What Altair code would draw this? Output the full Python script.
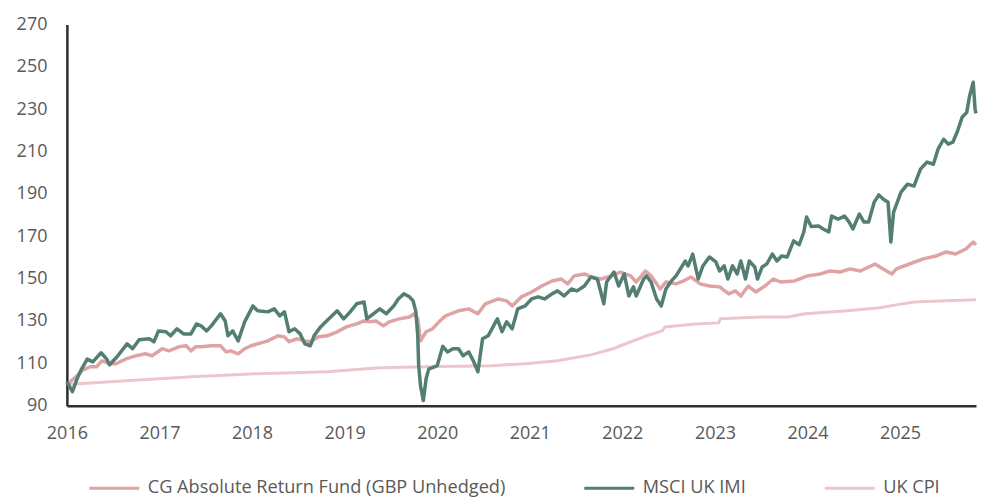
import altair as alt
import pandas as pd

# ---- data (decimal years, index level) ----
msci_t = [2016.00, 2016.06, 2016.11, 2016.16, 2016.22, 2016.28, 2016.37, 2016.43, 2016.46, 2016.54,
          2016.65, 2016.71, 2016.78, 2016.89, 2016.94, 2016.99, 2017.07, 2017.12, 2017.19, 2017.26,
          2017.34, 2017.40, 2017.45, 2017.51, 2017.56, 2017.66, 2017.71, 2017.74, 2017.79, 2017.85,
          2017.92, 2018.01, 2018.06, 2018.17, 2018.24, 2018.30, 2018.35, 2018.40, 2018.46, 2018.52,
          2018.57, 2018.63, 2018.67, 2018.74, 2018.83, 2018.92, 2018.99, 2019.06, 2019.13, 2019.21,
          2019.24, 2019.31, 2019.38, 2019.45, 2019.53, 2019.58, 2019.64, 2019.70, 2019.74, 2019.77,
          2019.79, 2019.80, 2019.82, 2019.85, 2019.88, 2019.91, 2019.95, 2020.00, 2020.06, 2020.11,
          2020.17, 2020.23, 2020.28, 2020.34, 2020.39, 2020.44, 2020.49, 2020.55, 2020.65, 2020.70,
          2020.75, 2020.81, 2020.87, 2020.95, 2021.02, 2021.09, 2021.16, 2021.24, 2021.30, 2021.37,
          2021.45, 2021.51, 2021.59, 2021.66, 2021.73, 2021.80, 2021.83, 2021.91, 2021.96, 2022.02,
          2022.07, 2022.12, 2022.15, 2022.23, 2022.26, 2022.31, 2022.37, 2022.42, 2022.47, 2022.53,
          2022.58, 2022.68, 2022.71, 2022.76, 2022.82, 2022.87, 2022.94, 2023.01, 2023.05, 2023.10,
          2023.14, 2023.19, 2023.24, 2023.28, 2023.33, 2023.37, 2023.43, 2023.46, 2023.51, 2023.56,
          2023.62, 2023.67, 2023.72, 2023.78, 2023.85, 2023.91, 2023.96, 2023.99, 2024.04, 2024.12,
          2024.17, 2024.23, 2024.26, 2024.33, 2024.40, 2024.45, 2024.49, 2024.56, 2024.61, 2024.66,
          2024.72, 2024.77, 2024.82, 2024.87, 2024.90, 2024.93, 2025.01, 2025.08, 2025.15, 2025.22,
          2025.29, 2025.36, 2025.41, 2025.47, 2025.52, 2025.57, 2025.62, 2025.67, 2025.72, 2025.75,
          2025.79, 2025.81, 2025.82]
msci_v = [101.3, 96.6, 102.7, 107.4, 112.0, 110.7, 115.0, 112.0, 109.3, 113.0,
          119.2, 116.9, 121.1, 121.6, 120.2, 125.3, 124.9, 123.0, 126.3, 123.9,
          123.9, 128.6, 127.7, 125.3, 127.7, 133.4, 130.0, 123.0, 125.3, 120.6,
          129.6, 137.1, 134.8, 134.3, 135.7, 132.4, 134.3, 124.9, 126.3, 123.9,
          119.2, 118.3, 123.0, 127.2, 131.0, 134.8, 131.0, 134.3, 138.1, 139.0,
          131.0, 133.4, 135.7, 133.4, 137.1, 140.4, 142.8, 141.4, 139.5, 134.3,
          123.0, 108.9, 99.4, 92.4, 102.7, 107.4, 108.0, 108.9, 118.0, 115.4,
          116.9, 116.9, 113.6, 115.4, 111.2, 106.0, 121.6, 123.0, 131.0, 124.9,
          129.6, 126.3, 135.7, 137.1, 140.4, 141.4, 140.4, 142.8, 144.2, 141.8,
          145.1, 144.2, 146.5, 150.8, 149.8, 138.1, 148.4, 153.1, 146.5, 152.2,
          141.8, 146.1, 141.8, 149.8, 151.3, 148.4, 140.4, 137.1, 145.1, 148.9,
          151.3, 158.3, 156.0, 161.6, 149.8, 156.0, 160.2, 157.9, 153.6, 156.0,
          149.8, 156.0, 152.2, 158.3, 149.8, 158.3, 155.5, 149.8, 155.5, 156.9,
          161.6, 158.3, 160.7, 160.2, 167.8, 166.0, 172.0, 179.1, 174.6, 174.8,
          173.4, 172.0, 179.5, 178.1, 179.5, 176.7, 173.4, 180.5, 176.7, 176.7,
          186.1, 189.5, 187.5, 186.1, 167.3, 181.4, 190.8, 194.6, 193.7, 201.7,
          205.0, 204.0, 211.1, 215.8, 213.5, 214.4, 219.6, 226.2, 228.5, 236.1,
          242.7, 230.0, 228.0]

fund_t = [2016.00, 2016.11, 2016.16, 2016.25, 2016.32, 2016.38, 2016.46, 2016.53, 2016.64, 2016.75,
          2016.85, 2016.92, 2017.03, 2017.10, 2017.21, 2017.29, 2017.34, 2017.39, 2017.45, 2017.56,
          2017.66, 2017.72, 2017.77, 2017.85, 2017.92, 2017.99, 2018.06, 2018.17, 2018.28, 2018.35,
          2018.40, 2018.49, 2018.57, 2018.63, 2018.72, 2018.81, 2018.92, 2019.02, 2019.13, 2019.21,
          2019.27, 2019.34, 2019.42, 2019.48, 2019.59, 2019.70, 2019.75, 2019.79, 2019.82, 2019.88,
          2019.95, 2020.02, 2020.09, 2020.23, 2020.34, 2020.44, 2020.52, 2020.66, 2020.75, 2020.81,
          2020.91, 2021.02, 2021.13, 2021.24, 2021.34, 2021.41, 2021.48, 2021.59, 2021.66, 2021.77,
          2021.88, 2021.98, 2022.09, 2022.15, 2022.25, 2022.31, 2022.41, 2022.47, 2022.58, 2022.66,
          2022.74, 2022.84, 2022.94, 2023.05, 2023.15, 2023.22, 2023.28, 2023.36, 2023.44, 2023.54,
          2023.63, 2023.71, 2023.86, 2024.00, 2024.14, 2024.24, 2024.35, 2024.46, 2024.57, 2024.73,
          2024.78, 2024.91, 2024.96, 2025.10, 2025.25, 2025.39, 2025.50, 2025.60, 2025.71, 2025.79,
          2025.82]
fund_v = [100.0, 104.1, 106.5, 108.4, 108.4, 111.2, 109.8, 109.8, 112.1, 113.6,
          114.5, 113.6, 116.9, 115.9, 117.8, 118.3, 115.9, 117.8, 117.8, 118.3,
          118.3, 115.4, 115.9, 114.5, 116.9, 118.3, 119.2, 120.6, 123.0, 122.5,
          120.2, 121.6, 120.6, 120.2, 122.5, 123.0, 124.9, 127.2, 128.6, 130.0,
          129.6, 130.0, 127.7, 129.6, 131.0, 131.9, 133.4, 131.0, 120.6, 124.9,
          126.3, 129.6, 132.4, 134.8, 135.7, 133.4, 138.1, 140.4, 139.5, 137.1,
          141.4, 143.7, 146.5, 148.9, 149.8, 147.5, 151.3, 152.2, 150.8, 149.8,
          151.3, 153.1, 151.3, 148.4, 153.6, 151.3, 145.1, 148.4, 147.5, 148.9,
          150.8, 147.5, 146.5, 146.1, 142.8, 144.2, 141.8, 146.5, 143.7, 146.5,
          149.8, 148.4, 148.9, 151.3, 152.2, 153.6, 153.1, 154.6, 153.6, 156.9,
          155.5, 152.2, 154.6, 156.9, 159.3, 160.7, 162.6, 161.6, 164.0, 167.3,
          166.0]

cpi_t = [2016.00, 2016.64, 2017.35, 2018.06, 2018.81, 2019.38, 2019.88, 2020.59, 2020.95, 2021.30,
         2021.66, 2021.91, 2021.98, 2022.26, 2022.43, 2022.46, 2022.79, 2023.04, 2023.06, 2023.51,
         2023.79, 2023.97, 2024.43, 2024.78, 2024.96, 2025.15, 2025.50, 2025.82]
cpi_v = [100.0, 101.8, 103.7, 105.1, 106.0, 107.9, 108.4, 108.9, 109.8, 111.2,
         114.0, 117.0, 118.3, 123.0, 125.3, 127.2, 128.6, 129.1, 131.0, 131.9,
         131.9, 133.4, 134.8, 136.2, 137.6, 139.0, 139.5, 140.0]

series_names = ["CG Absolute Return Fund (GBP Unhedged)", "MSCI UK IMI", "UK CPI"]
series_colors = ["#dfa3a4", "#537e74", "#ecc6ca"]
x_ticks = [2016, 2017, 2018, 2019, 2020, 2021, 2022, 2023, 2024, 2025]
y_ticks = [90, 110, 130, 150, 170, 190, 210, 230, 250, 270]

frames = []
for name, ts, vs in zip(series_names, [fund_t, msci_t, cpi_t], [fund_v, msci_v, cpi_v]):
    frames.append(pd.DataFrame({"year": ts, "value": vs, "series": name}))
df = pd.concat(frames, ignore_index=True)

FONT = "Open Sans"
color = alt.Color(
    "series:N",
    scale=alt.Scale(domain=series_names, range=series_colors),
    legend=alt.Legend(
        title=None, orient="none", legendX=21, legendY=438, direction="horizontal",
        columns=3, symbolType="stroke", symbolSize=2500, symbolStrokeWidth=3,
        labelFont=FONT, labelFontSize=18.2, labelColor="#595959", labelOffset=7,
        labelLimit=0, columnPadding=72, padding=0,
    ),
)
x = alt.X("year:Q", scale=alt.Scale(domain=[2016, 2025.82], nice=False, zero=False),
          axis=alt.Axis(values=x_ticks, format="d", title=None, ticks=False, grid=False,
                        labelFont=FONT, labelFontSize=18, labelColor="#595959", labelPadding=19,
                        domainColor="#2e2e2e", domainWidth=2.5, labelFlush=False))
y = alt.Y("value:Q", scale=alt.Scale(domain=[90, 270], nice=False, zero=False),
          axis=alt.Axis(values=y_ticks, title=None, ticks=False, grid=False,
                        labelFont=FONT, labelFontSize=18, labelColor="#595959", labelPadding=20,
                        domainColor="#2e2e2e", domainWidth=2.5))

def line(name, width):
    return alt.Chart(df).transform_filter(alt.datum.series == name).mark_line(
        strokeWidth=width, strokeJoin="round").encode(x=x, y=y, color=color)

chart = alt.layer(
    line("UK CPI", 3),
    line("CG Absolute Return Fund (GBP Unhedged)", 3.5),
    line("MSCI UK IMI", 3.5),
).properties(
    width=911, height=382, padding={"left": 8, "top": 7, "right": 0, "bottom": 0}
).configure_view(stroke=None)

chart.save("out.html", embed_options={"renderer": "svg", "actions": False})
